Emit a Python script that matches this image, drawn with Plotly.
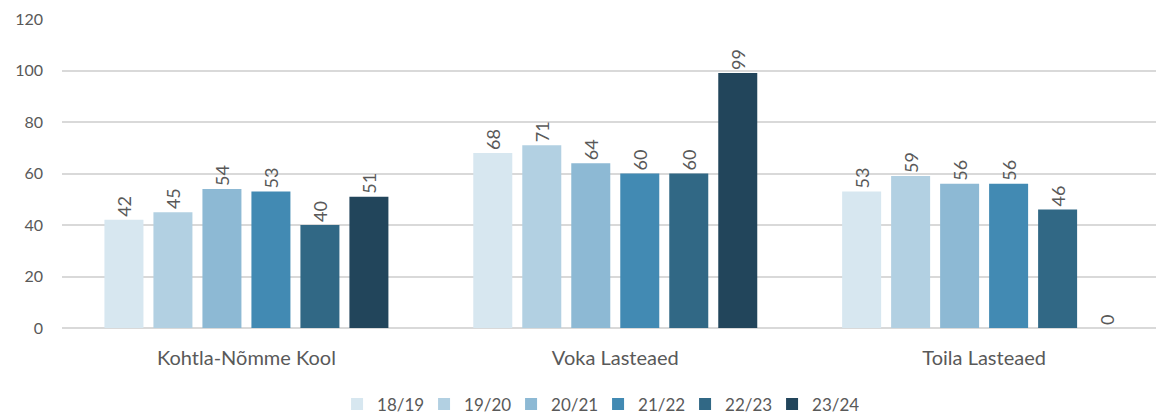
import plotly.graph_objects as go

categories = ["Kohtla-Nõmme Kool", "Voka Lasteaed", "Toila Lasteaed"]
series_names = ["18/19", "19/20", "20/21", "21/22", "22/23", "23/24"]
v_18_19 = [42, 68, 53]
v_19_20 = [45, 71, 59]
v_20_21 = [54, 64, 56]
v_21_22 = [53, 60, 56]
v_22_23 = [40, 60, 46]
v_23_24 = [51, 99, 0]
series_values = [v_18_19, v_19_20, v_20_21, v_21_22, v_22_23, v_23_24]
colors = ["#D7E7F0", "#B2D0E2", "#8DB9D4", "#428AB3", "#316885", "#22455B"]
y_ticks = [0, 20, 40, 60, 80, 100, 120]

FONT = "Lato, 'Open Sans', sans-serif"
GREY = "#595959"

fig = go.Figure()
for name, vals, col in zip(series_names, series_values, colors):
    fig.add_trace(go.Bar(
        x=categories, y=vals, name=name,
        marker=dict(color=col, line=dict(width=0)),
        text=[str(v) for v in vals],
        textposition="outside", textangle=-90,
        textfont=dict(family=FONT, size=18, color=GREY),
        cliponaxis=False,
    ))

fig.update_layout(
    width=1156, height=416,
    margin=dict(l=62, r=0, t=19, b=88, autoexpand=False),
    paper_bgcolor="white", plot_bgcolor="white",
    barmode="group", bargap=0.203, bargroupgap=0.204,
    font=dict(family=FONT, color=GREY, size=14),
    showlegend=True,
    legend=dict(orientation="h", xanchor="center", x=0.49,
                yref="container", y=0.028, yanchor="middle",
                font=dict(size=17, color=GREY), itemwidth=30,
                entrywidth=42, entrywidthmode="pixels",
                traceorder="normal"),
    uniformtext=dict(minsize=8),
)
fig.update_xaxes(
    range=[-0.5, 2.466], showgrid=False, ticks="", automargin=False,
    tickfont=dict(size=20, color=GREY), ticklabelstandoff=16,
    showline=False, zeroline=False,
)
fig.update_yaxes(
    range=[0, 120], tickvals=y_ticks, showgrid=True, automargin=False,
    gridcolor="#D9D9D9", gridwidth=1.5, zeroline=True,
    zerolinecolor="#D9D9D9", zerolinewidth=1.5,
    tickfont=dict(size=16, color=GREY), ticklabelstandoff=18,
    ticks="",
)

fig.write_html(
    "out.html",
    config={"displayModeBar": False},
    post_script="document.body.style.margin='0';document.body.style.overflow='hidden';",
)
